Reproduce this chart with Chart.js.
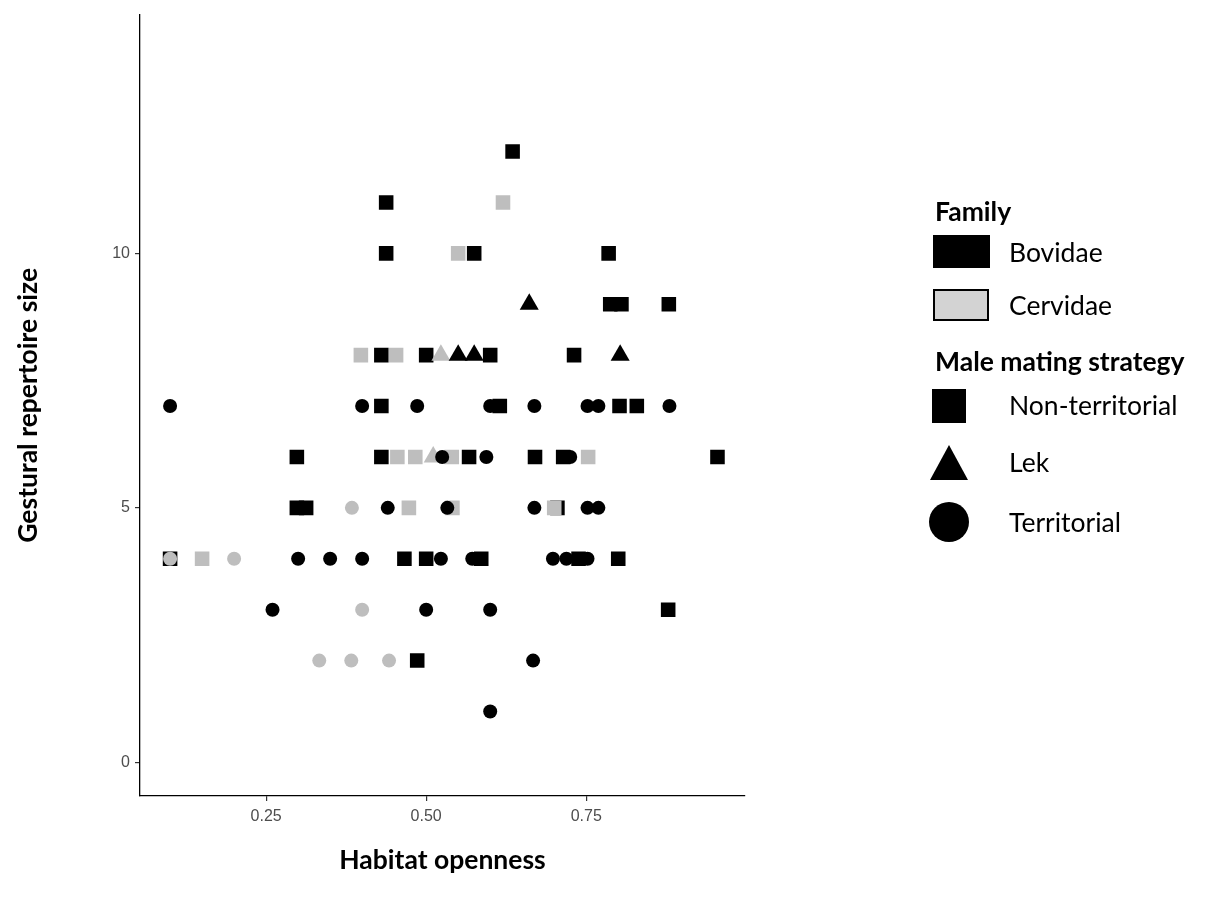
<!DOCTYPE html>
<html>
<head>
<meta charset="utf-8">
<script src="https://cdn.jsdelivr.net/npm/chart.js@4"></script>
<style>
  body { margin: 0; background: #fff; }
  #wrap { position: relative; width: 1207px; height: 903px; }
  #chart { position: absolute; left: 0; top: 0; }
  .lg { position: absolute; font-family: "Lato", sans-serif; color: #000; white-space: nowrap; transform: translateY(-50%); }
  .lg.title { font-weight: bold; font-size: 26.5px; }
  .lg.item { font-size: 26.5px; }
  .key { position: absolute; box-sizing: border-box; }
</style>
</head>
<body>
<div id="wrap">
  <canvas id="chart" width="1207" height="903"></canvas>

  <div class="lg title" style="left:935px; top:211px;">Family</div>
  <div class="key" style="left:933px; top:235px; width:57px; height:33px; background:#000;"></div>
  <div class="lg item" style="left:1009px; top:252px;">Bovidae</div>
  <div class="key" style="left:933px; top:289px; width:56px; height:32px; background:#d3d3d3; border:2px solid #000;"></div>
  <div class="lg item" style="left:1009px; top:305px;">Cervidae</div>

  <div class="lg title" style="left:935px; top:361px;">Male mating strategy</div>
  <div class="key" style="left:932px; top:389px; width:34px; height:34px; background:#000;"></div>
  <div class="lg item" style="left:1009px; top:405px;">Non-territorial</div>
  <svg class="key" style="left:930px; top:445px;" width="38" height="36"><polygon points="19,0 38,35 0,35" fill="#000"/></svg>
  <div class="lg item" style="left:1009px; top:462px;">Lek</div>
  <div class="key" style="left:929px; top:502px; width:40px; height:40px; background:#000; border-radius:50%;"></div>
  <div class="lg item" style="left:1009px; top:522px;">Territorial</div>
</div>

<script>
// axis settings
const xTicks = [0.25, 0.5, 0.75];
const yTicks = [0, 5, 10];

// Bovidae, non-territorial (black squares)
const bovNonTerrX = [0.635, 0.4375, 0.4375, 0.575, 0.785, 0.7875, 0.805, 0.879, 0.43, 0.50, 0.60, 0.731,
  0.43, 0.615, 0.802, 0.829, 0.298, 0.43, 0.567, 0.67, 0.714, 0.955, 0.298, 0.3125, 0.705,
  0.1, 0.466, 0.50, 0.586, 0.738, 0.80, 0.878, 0.486];
const bovNonTerrY = [12, 11, 10, 10, 10, 9, 9, 9, 8, 8, 8, 8,
  7, 7, 7, 7, 6, 6, 6, 6, 6, 6, 5, 5, 5,
  4, 4, 4, 4, 4, 4, 3, 2];

// Bovidae, lek (black triangles)
const bovLekX = [0.661, 0.55, 0.575, 0.803];
const bovLekY = [9, 8, 8, 8];

// Bovidae, territorial (black circles)
const bovTerrX = [0.1, 0.40, 0.486, 0.60, 0.669, 0.752, 0.769, 0.88, 0.525, 0.594, 0.725,
  0.44, 0.533, 0.669, 0.752, 0.769, 0.3, 0.35, 0.40, 0.523, 0.572, 0.698, 0.719, 0.752,
  0.26, 0.50, 0.60, 0.667, 0.60];
const bovTerrY = [7, 7, 7, 7, 7, 7, 7, 7, 6, 6, 6,
  5, 5, 5, 5, 5, 4, 4, 4, 4, 4, 4, 4, 4,
  3, 3, 3, 2, 1];

// Cervidae, non-territorial (grey squares)
const cerNonTerrX = [0.62, 0.55, 0.398, 0.453, 0.455, 0.483, 0.54, 0.753, 0.473, 0.541, 0.70, 0.15];
const cerNonTerrY = [11, 10, 8, 8, 6, 6, 6, 6, 5, 5, 5, 4];

// Cervidae, lek (grey triangles)
const cerLekX = [0.523, 0.511];
const cerLekY = [8, 6];

// Cervidae, territorial (grey circles)
const cerTerrX = [0.384, 0.1, 0.2, 0.40, 0.333, 0.383, 0.442];
const cerTerrY = [5, 4, 4, 3, 2, 2, 2];

const BLACK = '#000000';
const GREY = '#bebebe';

function pts(xs, ys) {
  return xs.map((x, i) => ({ x: x, y: ys[i] }));
}

function series(label, xs, ys, colour, style, radius, order) {
  return {
    label: label,
    data: pts(xs, ys),
    pointStyle: style,
    pointRadius: radius,
    pointBorderWidth: 0,
    backgroundColor: colour,
    borderColor: colour,
    order: order
  };
}

// lower order is drawn on top
const datasets = [
  series('Cervidae territorial', cerTerrX, cerTerrY, GREY, 'circle', 7, 0),
  series('Bovidae lek', bovLekX, bovLekY, BLACK, 'triangle', 11, 1),
  series('Bovidae territorial', bovTerrX, bovTerrY, BLACK, 'circle', 7, 2),
  series('Cervidae lek', cerLekX, cerLekY, GREY, 'triangle', 11, 3),
  series('Cervidae non-territorial', cerNonTerrX, cerNonTerrY, GREY, 'rect', 10.3, 4),
  series('Bovidae non-territorial', bovNonTerrX, bovNonTerrY, BLACK, 'rect', 10.3, 5)
];

const tickFont = { family: 'Liberation Sans', size: 16 };
const titleFont = { family: 'Lato', size: 26.5, weight: 'bold' };

new Chart(document.getElementById('chart').getContext('2d'), {
  type: 'scatter',
  data: { datasets: datasets },
  options: {
    responsive: false,
    animation: false,
    events: [],
    layout: { padding: { top: 10, right: 462, bottom: 0, left: 0 } },
    plugins: { legend: { display: false }, tooltip: { enabled: false } },
    scales: {
      x: {
        type: 'linear',
        min: 0.053,
        max: 0.998,
        afterBuildTicks: s => { s.ticks = xTicks.map(v => ({ value: v })); },
        afterFit: s => { s.height = 107; },
        ticks: { callback: v => v.toFixed(2), color: '#4d4d4d', font: tickFont, padding: 6, maxRotation: 0, autoSkip: false },
        grid: { drawOnChartArea: false, tickLength: 5, color: '#333333', lineWidth: 1.2 },
        border: { color: '#000000', width: 1.3 },
        title: { display: true, text: 'Habitat openness', color: '#000', font: titleFont, padding: { top: 0, bottom: 27 } }
      },
      y: {
        type: 'linear',
        min: -0.66,
        max: 14.69,
        afterBuildTicks: s => { s.ticks = yTicks.map(v => ({ value: v })); },
        afterFit: s => { s.width = 140; },
        ticks: { color: '#4d4d4d', font: tickFont, padding: 5 },
        grid: { drawOnChartArea: false, tickLength: 5, color: '#333333', lineWidth: 1.2 },
        border: { color: '#000000', width: 1.3 },
        title: { display: true, text: 'Gestural repertoire size', color: '#000', font: titleFont, padding: { top: 13, bottom: 0 } }
      }
    }
  }
});
</script>
</body>
</html>
